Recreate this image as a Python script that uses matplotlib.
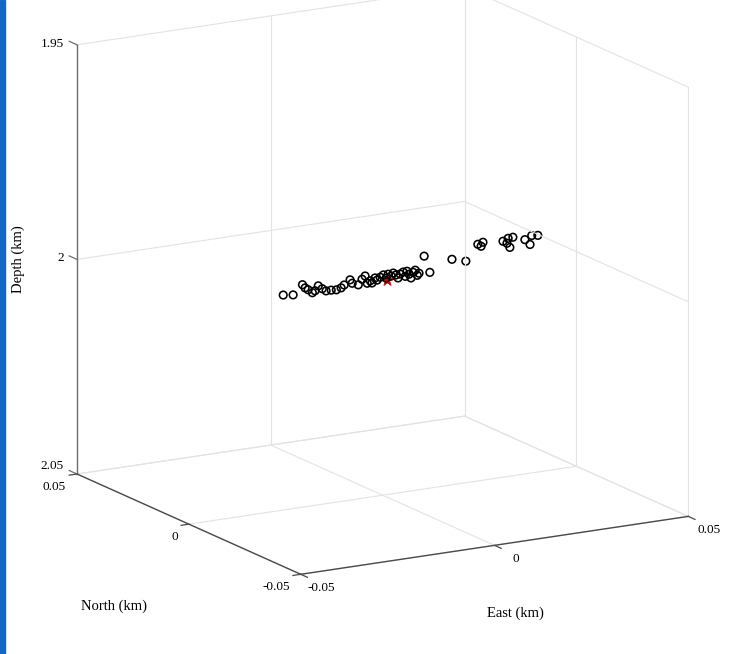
import numpy as np
import matplotlib
matplotlib.use("Agg")
import matplotlib.pyplot as plt
from matplotlib.patches import Rectangle
from mpl_toolkits.mplot3d import proj3d

# ---------------- data (km) ----------------
east = [-0.0290, -0.0261, -0.0234, -0.0226, -0.0217, -0.0205, -0.0197, -0.0188,
        -0.0176, -0.0165, -0.0150, -0.0135, -0.0121, -0.0112, -0.0095, -0.0089,
        -0.0071, -0.0060, -0.0051, -0.0045, -0.0036, -0.0031, -0.0022, -0.0016,
        -0.0007, 0.0002, 0.0010, 0.0016, 0.0025, 0.0031, 0.0039, 0.0045,
        0.0051, 0.0060, 0.0066, 0.0071, 0.0077, 0.0083, 0.0089, 0.0095,
        0.0101, 0.0106, 0.0121, 0.0138, 0.0202, 0.0243, 0.0278, 0.0293,
        0.0287, 0.0351, 0.0366, 0.0380, 0.0363, 0.0371, 0.0415, 0.0430,
        0.0435, 0.0453]
north = [-0.0058, -0.0052, -0.0047, -0.0045, -0.0043, -0.0041, -0.0039, -0.0038,
         -0.0035, -0.0033, -0.0030, -0.0027, -0.0024, -0.0022, -0.0019, -0.0018,
         -0.0014, -0.0012, -0.0010, -0.0009, -0.0007, -0.0006, -0.0004, -0.0003,
         -0.0001, 0.0000, 0.0002, 0.0003, 0.0005, 0.0006, 0.0008, 0.0009,
         0.0010, 0.0012, 0.0013, 0.0014, 0.0015, 0.0017, 0.0018, 0.0019,
         0.0020, 0.0021, 0.0024, 0.0028, 0.0040, 0.0049, 0.0056, 0.0059,
         0.0057, 0.0070, 0.0073, 0.0076, 0.0073, 0.0074, 0.0083, 0.0086,
         0.0087, 0.0091]
depth = [1.9981, 1.9986, 1.9967, 1.9976, 1.9982, 1.9991, 1.9988, 1.9978,
         1.9987, 1.9994, 1.9995, 1.9997, 1.9995, 1.9990, 1.9981, 1.9990,
         1.9997, 1.9986, 1.9980, 1.9998, 1.9994, 2.0000, 1.9990, 1.9996,
         1.9991, 1.9987, 1.9996, 1.9988, 1.9994, 1.9988, 1.9994, 2.0002,
         1.9994, 1.9991, 2.0002, 1.9991, 1.9999, 2.0009, 1.9997, 1.9993,
         2.0006, 2.0002, 1.9965, 2.0006, 1.9987, 1.9999, 1.9966, 1.9964,
         1.9972, 1.9972, 1.9968, 1.9968, 1.9979, 1.9990, 1.9980, 1.9994,
         1.9974, 1.9977]
main_east = [0.0013]
main_north = [0.0003]
main_depth = [2.0001]

e_ticks = [-0.05, 0.0, 0.05]
n_ticks = [-0.05, 0.0, 0.05]
d_ticks = [1.95, 2.0, 2.05]
e_labels = ["-0.05", "0", "0.05"]
n_labels = ["-0.05", "0", "0.05"]
d_labels = ["1.95", "2", "2.05"]

# ---------------- figure ----------------
W, H, DPI = 731, 654, 100
plt.rcParams["font.family"] = ["Liberation Serif", "DejaVu Serif"]
fig = plt.figure(figsize=(W / DPI, H / DPI), dpi=DPI)
fig.patch.set_facecolor("white")
fig.patches.append(Rectangle((0, 0), 4.5 / W, 1, transform=fig.transFigure,
                             color="#1467c2", zorder=10))

ax = fig.add_axes([0.1, 0.05, 0.8, 0.8 * W / H], projection="3d",
                  proj_type="ortho")
ax.set_box_aspect((1, 1, 0.993))
ax.view_init(elev=15, azim=-120)
ax.set_axis_off()
ax.computed_zorder = False

e0, e1 = e_ticks[0], e_ticks[-1]
n0, n1 = n_ticks[0], n_ticks[-1]
d0, d1 = d_ticks[0], d_ticks[-1]

grid_kw = dict(color="#e3e3e3", lw=0.8)
for e in e_ticks:
    ax.plot([e, e], [n1, n1], [d0, d1], **grid_kw)
    ax.plot([e, e], [n0, n1], [d1, d1], **grid_kw)
for n in n_ticks:
    ax.plot([e1, e1], [n, n], [d0, d1], **grid_kw)
    ax.plot([e0, e1], [n, n], [d1, d1], **grid_kw)
for d in d_ticks:
    ax.plot([e0, e1], [n1, n1], [d, d], **grid_kw)
    ax.plot([e1, e1], [n0, n1], [d, d], **grid_kw)

# axis lines and ticks
ax.plot([e0, e0], [n1, n1], [d0, d1], color="#6e6e6e", lw=1.0)
ax.plot([e0, e0], [n0, n1], [d1, d1], color="#4a4a4a", lw=1.0)
ax.plot([e0, e1], [n0, n0], [d1, d1], color="#4a4a4a", lw=1.0)
for d in d_ticks:
    ax.plot([e0, e0], [n1, n1 + 0.0035], [d, d], color="#6e6e6e", lw=0.9)
for n in n_ticks:
    ax.plot([e0, e0 - 0.002], [n, n], [d1, d1], color="#4a4a4a", lw=0.9)
for e in e_ticks:
    ax.plot([e, e], [n0, n0 - 0.003], [d1, d1], color="#4a4a4a", lw=0.9)

# data
ax.scatter(main_east, main_north, main_depth, marker="*", s=80, color="#d00000",
           depthshade=False, linewidths=0.5)
ax.scatter(east, north, depth, s=30, facecolors="none", edgecolors="black",
           linewidths=1.15, depthshade=False)

ax.set_xlim(e0, e1)
ax.set_ylim(n0, n1)
ax.set_zlim(d1, d0)

# ---------------- calibrate placement ----------------
def to_px(x, y, z):
    xs, ys, _ = proj3d.proj_transform(np.atleast_1d(x), np.atleast_1d(y),
                                      np.atleast_1d(z), ax.get_proj())
    return ax.transData.transform(np.column_stack([xs, ys]))[0]

fig.canvas.draw()
pl = to_px(e0, n1, d1)
pr = to_px(e1, n0, d1)
tgt_l = np.array([77.0, H - 474.0])
tgt_r = np.array([688.0, H - 520.0])
pos = ax.get_position()
x0, y0, L = pos.x0 * W, pos.y0 * H, pos.width * W
u = (pl - np.array([x0, y0])) / L
scale = np.linalg.norm(tgt_r - tgt_l) / np.linalg.norm(pr - pl)
L2 = L * scale
o2 = tgt_l - u * L2
ax.set_position([o2[0] / W, o2[1] / H, L2 / W, L2 / H])
fig.canvas.draw()

# ---------------- tick labels & axis labels (placed at projected points) ----
def lab(x, y, z, s, dx, dy, size=9.5, **kw):
    p = to_px(x, y, z)
    fig.text((p[0] + dx) / W, (p[1] + dy) / H, s, fontsize=size,
             color="black", **kw)

for d, s in zip(d_ticks, d_labels):
    dy = 8 if d == d1 else 1
    lab(e0, n1, d, s, -13, dy, ha="right", va="center")
for n, s in zip(n_ticks, n_labels):
    lab(e0, n, d1, s, -11, -13, ha="right", va="center")
for e, s in zip(e_ticks, e_labels):
    lab(e, n0, d1, s, 21, -14, ha="center", va="center")

lab(e0, n1, 2.0, "Depth (km)", -59, 0, size=10.5, ha="center", va="center",
    rotation=90)
lab(e0, 0.0, d1, "North (km)", -75, -82, size=10.5, ha="center", va="center")
lab(0.0, n0, d1, "East (km)", 21, -68, size=10.5, ha="center", va="center")

fig.savefig("out.png", dpi=DPI)
